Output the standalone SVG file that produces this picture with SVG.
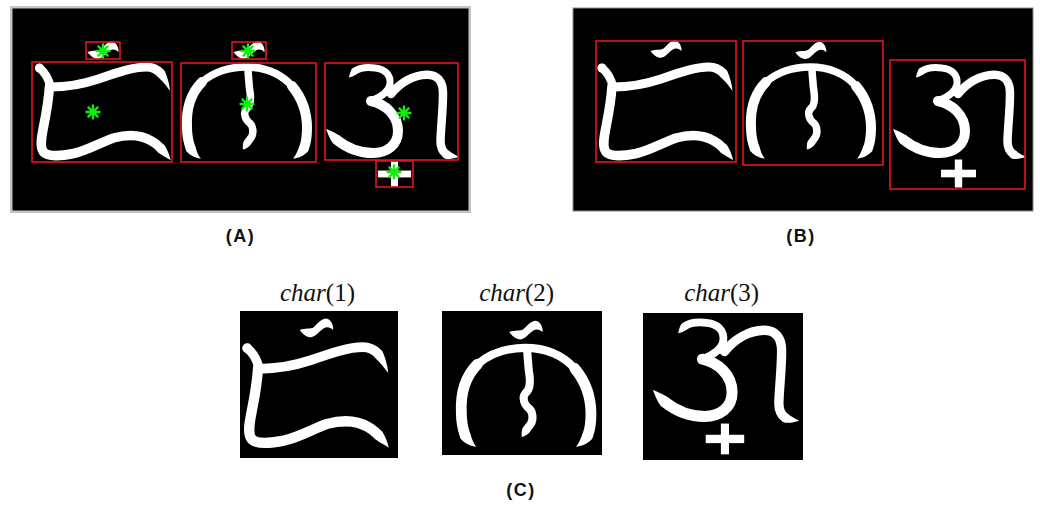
<svg xmlns="http://www.w3.org/2000/svg" width="1040" height="506" viewBox="0 0 1040 506">
  <style>
    .ink { fill: none; stroke: #fff; stroke-linecap: round; stroke-linejoin: round; }
    .solid { fill: #fff; stroke: none; }
    .box { fill: none; stroke: #e3161c; stroke-width: 1.6; }
    .star { fill: none; stroke: #10ee10; stroke-width: 2.3; stroke-linecap: round; }
    .plate { fill: #000; }
    .label { font-family: "Liberation Sans", Arial, sans-serif; font-weight: bold; font-size: 18px; letter-spacing: 1.5px; fill: #111; text-anchor: middle; }
    .cap { font-family: "Liberation Serif", "Times New Roman", serif; font-size: 25px; fill: #111; text-anchor: middle; }
  </style>
  <defs>
    <!-- first character body: hooked top stroke, left stem and lower wave -->
    <g id="glyph1" class="ink">
      <circle cx="6" cy="6" r="4.6" class="solid"/>
      <path stroke-width="8.5" d="M6,6 C11,10 15,16 17,25"/>
      <path stroke-width="9" d="M17,25 C35,25 50,22 65,17 C85,10 100,5 113,5 C120,5 124,8 127,11"/>
      <path class="solid" d="M123.8,14.2 C126,16.4 132,22 136.5,29 C136,21 132.3,9.9 130.2,7.8 Z"/>
      <path stroke-width="9.5" d="M16,24 C15,40 12,55 10,65 C8,75 6,85 10,90 C14,95 28,94 40,91.5 C55,88 68,80 80,76 C95,72 108,73 118,79 C122,81 125,84 127,86"/>
      <path class="solid" d="M123.6,89.4 C126,91.8 132,95 137,98 C136,92 132,84.2 130.4,82.6 Z"/>
    </g>
    <!-- second character body: open arch with a zigzag stem -->
    <g id="glyph2" class="ink">
      <path stroke-width="10" d="M10.5,85 C8,78 7,72 7,64 C6,45 11,30 22,19"/>
      <path stroke-width="7.5" d="M22,19 C35,8 50,4 66,4 C85,4 101,11 112,23"/>
      <path stroke-width="10" d="M112,23 C122,35 127,50 127,65 C127,74 126,80 124,85"/>
      <path class="solid" d="M5.8,86.7 C6.8,89.5 13,95 21,95.5 C18,93 16.2,86.1 15.2,83.3 Z"/>
      <path class="solid" d="M128.6,86.9 C127.5,89.7 121,95 113,95.5 C116,93 118.3,85.9 119.4,83.1 Z"/>
      <path stroke-width="7.5" d="M68,5 C68,12 69,18 69.3,23.7 C70,30 72,36 69,42.7 C67,46 64,47 64.7,51 C65,55 67,58 70,60.3 C73,63 74,70 71.3,74.3 L67.5,79.5"/>
      <path class="solid" d="M70.5,81.7 C68.7,84.1 66,86 63,86.5 C62.5,84 62.7,79.7 64.5,77.3 Z"/>
    </g>
    <!-- third character body: "3"-shape joined to an arch -->
    <g id="glyph3" class="ink">
      <path class="solid" d="M31.9,10.9 C29.4,12.6 26.5,14 24,14.5 C24.5,12 25.6,6.8 28.1,5.1 Z"/>
      <path stroke-width="7" d="M30,8 C36,4 43,4 50,5 C60,6 66,12 65,21 C64,29 56,34 46,38"/>
      <path stroke-width="10" d="M46,38 C60,41 73,52 73,68 C73,82 62,90 48,90 C35,90 22,85 12,77"/>
      <path class="solid" d="M15.1,73.1 C12,70.6 6,68 1,66 C3,71 5.8,78.4 8.9,80.9 Z"/>
      <path stroke-width="8.5" d="M66,31 C75,20 88,12 102,11.7 C112,11.5 118,18 118,30 C118,48 116,62 115.5,78 C115.5,84 117,88 121,91"/>
      <path class="solid" d="M118.45,94.4 C121.6,96.8 128,96 134,94 C130,92 126,89.4 123.55,87.6 Z"/>
    </g>
    <!-- small wavy mark placed above a character -->
    <path id="mark" class="solid" d="M-15.5,1.5 C-12.5,5.5 -9,8.3 -5,8.3 C-0.5,7.8 2.5,3 6.5,0.3 C9.5,-1.7 12.5,-1.3 15.5,1.5 C16,-3 13,-9 8.5,-9 C4,-8.5 0.5,-3.5 -2.5,-1 C-5.5,1 -10,-0.5 -15.5,1.5 Z"/>
    <!-- cross placed below a character -->
    <g id="cross" class="solid">
      <rect x="-17.5" y="-3.8" width="35" height="7.6"/>
      <rect x="-3.7" y="-14" width="7.4" height="28"/>
    </g>
    <!-- centroid marker -->
    <path id="centroid" class="star" d="M-6.5,0 H6.5 M0,-6.5 V6.5 M-4.6,-4.6 L4.6,4.6 M-4.6,4.6 L4.6,-4.6"/>
  </defs>

  <rect width="1040" height="506" fill="#fff"/>

  <!-- (A) connected components with bounding boxes and centroids -->
  <g id="panel-a">
    <rect x="10" y="6" width="461" height="207" fill="#c4c4c4"/>
    <rect x="12.5" y="8.5" width="456" height="202" class="plate"/>
    <use href="#glyph1" transform="translate(33.5,62)"/>
    <use href="#mark" transform="translate(103,50.5)"/>
    <use href="#glyph2" transform="translate(180,63)"/>
    <use href="#mark" transform="translate(249,50.5)"/>
    <use href="#glyph3" transform="translate(325,63)"/>
    <use href="#cross" transform="translate(394.5,174) scale(0.95,0.9)"/>
    <g id="a-boxes">
      <rect class="box" x="86" y="42" width="34" height="17"/>
      <rect class="box" x="32" y="62" width="140" height="100"/>
      <rect class="box" x="232" y="42" width="34" height="17"/>
      <rect class="box" x="181" y="63" width="135" height="99"/>
      <rect class="box" x="325" y="63" width="133" height="97"/>
      <rect class="box" x="376" y="161" width="37" height="26"/>
    </g>
    <g id="a-centroids">
      <use href="#centroid" x="93" y="112"/>
      <use href="#centroid" x="103" y="51"/>
      <use href="#centroid" x="247" y="104"/>
      <use href="#centroid" x="248" y="51"/>
      <use href="#centroid" x="404" y="113"/>
      <use href="#centroid" x="394" y="172"/>
    </g>
  </g>
  <text class="label" x="240.5" y="241.5">(A)</text>

  <!-- (B) merged character boxes -->
  <g id="panel-b">
    <rect x="573" y="8" width="460" height="203" class="plate" stroke="#8a8a8a" stroke-width="1"/>
    <use href="#glyph1" transform="translate(596,62)"/>
    <use href="#mark" transform="translate(666,49.5)"/>
    <use href="#glyph2" transform="translate(744,63)"/>
    <use href="#mark" transform="translate(810.8,50.8)"/>
    <use href="#glyph3" transform="translate(892,63)"/>
    <use href="#cross" transform="translate(958.5,173.5)"/>
    <g id="b-boxes">
      <rect class="box" x="596" y="41" width="140" height="121"/>
      <rect class="box" x="743" y="41" width="140" height="124"/>
      <rect class="box" x="890" y="60" width="135" height="129"/>
    </g>
  </g>
  <text class="label" x="801" y="241.5">(B)</text>

  <!-- (C) segmented characters -->
  <g id="char-1">
    <text class="cap" x="317.5" y="301"><tspan font-style="italic">char</tspan>(1)</text>
    <rect x="240" y="311" width="158" height="147" class="plate"/>
    <g transform="translate(240.8,341.8) scale(1.08)">
      <use href="#glyph1"/>
      <use href="#mark" transform="translate(70,-12.5)"/>
    </g>
  </g>
  <g id="char-2">
    <text class="cap" x="516.7" y="301"><tspan font-style="italic">char</tspan>(2)</text>
    <rect x="442" y="311" width="160" height="144" class="plate"/>
    <g transform="translate(453.8,343.6) scale(1.08)">
      <use href="#glyph2"/>
      <use href="#mark" transform="translate(66.8,-12.2)"/>
    </g>
  </g>
  <g id="char-3">
    <text class="cap" x="721.7" y="301"><tspan font-style="italic">char</tspan>(3)</text>
    <rect x="643" y="313" width="160" height="147" class="plate"/>
    <g transform="translate(651.8,317.4) scale(1.1)">
      <use href="#glyph3"/>
      <use href="#cross" transform="translate(66.5,110.5)"/>
    </g>
  </g>
  <text class="label" x="521" y="496">(C)</text>
</svg>
